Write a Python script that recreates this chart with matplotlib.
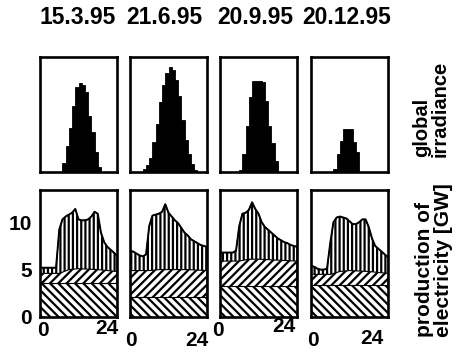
import numpy as np
import matplotlib.pyplot as plt

plt.rcParams['font.family'] = ['Liberation Sans', 'DejaVu Sans']
plt.rcParams['font.weight'] = 'bold'
plt.rcParams['hatch.linewidth'] = 1.6

# Tage
dates = ['15.3.95', '21.6.95', '20.9.95', '20.12.95']

# Globalstrahlung, Stundenmittel 0-23 Uhr (W/m2)
irr_mar = [0]*7 + [80, 230, 380, 570, 740, 770, 760, 700, 490, 350, 170, 40] + [0]*5
irr_jun = [0]*4 + [30, 60, 120, 260, 420, 610, 760, 860, 910, 890, 800, 660, 450, 280, 160, 70, 20] + [0]*3
irr_sep = [0]*6 + [20, 160, 400, 650, 790, 790, 790, 780, 620, 400, 250, 100] + [0]*6
irr_dec = [0]*7 + [30, 160, 270, 370, 370, 370, 260, 170] + [0]*9

# Stromerzeugung (GW), stuendlich 0-24 Uhr
hours = np.arange(25)
tot_mar = [5.2, 5.2, 5.2, 5.2, 5.2, 5.2, 9.2, 10.3, 10.6, 10.8, 11.0, 11.4, 10.3,
           10.2, 10.2, 10.3, 10.6, 11.1, 10.9, 8.9, 7.9, 7.4, 7.1, 6.8, 6.5]
tot_jun = [7.0, 6.9, 6.7, 6.5, 6.4, 6.6, 9.6, 10.7, 10.8, 10.9, 11.1, 11.9, 11.0,
           10.6, 10.2, 9.9, 9.4, 8.9, 8.6, 8.2, 8.0, 7.8, 7.6, 7.5, 7.4]
tot_sep = [6.8, 6.8, 6.8, 6.8, 6.8, 7.0, 9.6, 10.9, 11.0, 11.3, 12.1, 11.4, 10.9,
           10.0, 9.5, 9.2, 8.9, 8.6, 8.3, 8.1, 7.9, 7.8, 7.6, 7.5, 7.4]
tot_dec = [5.4, 5.3, 5.1, 5.0, 5.0, 5.1, 7.8, 10.0, 10.5, 10.6, 10.5, 10.4, 10.1,
           9.8, 9.8, 10.0, 10.3, 10.3, 9.5, 8.3, 7.5, 7.2, 6.9, 6.6, 6.3]

# Mittellast (Oberkante), Stuetzstellen
mid_hours = [0, 6, 9, 12, 18, 24]
mid_mar = [4.6, 4.6, 5.0, 5.1, 5.0, 4.8]
mid_jun = [4.9, 4.9, 5.0, 5.0, 5.0, 4.9]
mid_sep = [5.9, 5.9, 6.1, 6.1, 6.0, 5.9]
mid_dec = [4.5, 4.5, 4.8, 4.9, 4.8, 4.6]

# Grundlast (GW)
base = [3.6, 2.1, 3.3, 3.4]

irr = [irr_mar, irr_jun, irr_sep, irr_dec]
tot = [tot_mar, tot_jun, tot_sep, tot_dec]
mid = [mid_mar, mid_jun, mid_sep, mid_dec]

W, H = 457, 352
fig = plt.figure(figsize=(W / 100, H / 100), dpi=100)


def add_ax(x0, y0, x1, y1):
    # Achsen in Pixelkoordinaten (oben links = 0,0)
    return fig.add_axes([x0 / W, 1 - y1 / H, (x1 - x0) / W, (y1 - y0) / H])


def frame(ax):
    for s in ax.spines.values():
        s.set_linewidth(1.9)
    ax.set_xlim(0, 24)


lefts = [40, 130, 220, 311]
width = 77
title_x = [78, 164, 255, 347]

# Beschriftung der Zeitachse (x, y in Pixel)
xlab = [[(43, 330), (107, 329)],
        [(131, 341), (197, 340)],
        [(218, 330), (284, 326)],
        [(313, 340), (372, 339)]]

for i in range(4):
    x0 = lefts[i]

    # oben: Globalstrahlung
    ax = add_ax(x0, 57, x0 + width, 172)
    ax.bar(np.arange(24), irr[i], width=1.0, align='edge', color='black',
           edgecolor='black', linewidth=0.6)
    ax.set_ylim(0, 1000)
    frame(ax)
    ax.set_xticks([])
    ax.set_yticks([])

    # unten: Stromerzeugung
    ax = add_ax(x0, 190, x0 + width, 317)
    ax.fill_between(hours, 0, tot[i], facecolor='white', edgecolor='black',
                    hatch='||||', linewidth=0.8)
    ax.fill_between(mid_hours, 0, mid[i], facecolor='white', edgecolor='black',
                    hatch='////', linewidth=0.8)
    ax.fill_between([0, 24], 0, base[i], facecolor='white', edgecolor='black',
                    hatch='\\\\\\\\', linewidth=0.8)
    ax.plot(hours, tot[i], color='black', lw=1.4)
    ax.set_ylim(0, 13.4)
    frame(ax)
    ax.set_xticks([])
    if i == 0:
        ax.set_yticks([0, 5, 10])
        ax.tick_params(axis='y', length=0, pad=6, labelsize=15)
    else:
        ax.set_yticks([])

    fig.text(title_x[i] / W, 1 - 18 / H, dates[i], ha='center', va='center',
             fontsize=16.5)
    for lab, (px, py) in zip(['0', '24'], xlab[i]):
        fig.text(px / W, 1 - py / H, lab, ha='center', va='center', fontsize=15)

fig.text(431 / W, 1 - 157 / H, 'global\nirradiance', rotation=90, ha='center',
         va='bottom', fontsize=14.5, linespacing=1.0, multialignment='left')
fig.text(434 / W, 1 - 337 / H, 'production of\nelectricity [GW]', rotation=90,
         ha='center', va='bottom', fontsize=15, linespacing=1.0,
         multialignment='left')

fig.savefig('out.png', dpi=100)
